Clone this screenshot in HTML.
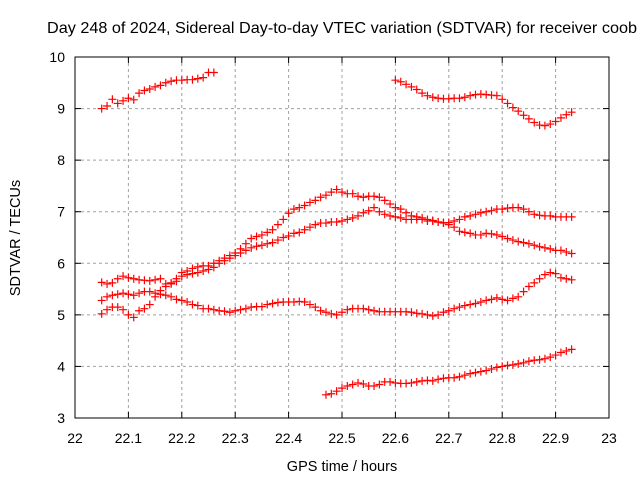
<!DOCTYPE html>
<html><head><meta charset="utf-8"><style>
body{margin:0;background:#fff}
svg{display:block;font-family:"Liberation Sans",sans-serif}
</style></head><body>
<svg id="chart" width="640" height="480">
<text x="47" y="33" font-size="16" textLength="590" lengthAdjust="spacingAndGlyphs" fill="#000">Day 248 of 2024, Sidereal Day-to-day VTEC variation (SDTVAR) for receiver coob</text>
<text x="342" y="471" font-size="14.5" text-anchor="middle">GPS time / hours</text>
<text x="0" y="0" font-size="14.5" text-anchor="middle" transform="translate(20,238) rotate(-90)">SDTVAR / TECUs</text>
<g id="grid"></g><g id="ticks"></g><g id="marks"></g>
<rect x="75" y="57" width="534" height="361" fill="none" stroke="#000" stroke-width="1"/>
</svg>
<script>
const xTicks=[22,22.1,22.2,22.3,22.4,22.5,22.6,22.7,22.8,22.9,23];
const xTickLabels=["22","22.1","22.2","22.3","22.4","22.5","22.6","22.7","22.8","22.9","23"];
const yTicks=[3,4,5,6,7,8,9,10];
const yTickLabels=["3","4","5","6","7","8","9","10"];
const seriesAStart=22.05;
const seriesA=[9.0,9.05,9.18,9.1,9.15,9.2,9.17,9.3,9.35,9.38,9.42,9.45,9.5,9.53,9.55,9.55,9.56,9.56,9.58,9.6,9.7,9.7];
const seriesBStart=22.60;
const seriesB=[9.55,9.52,9.47,9.42,9.37,9.3,9.25,9.22,9.2,9.19,9.19,9.2,9.2,9.22,9.25,9.27,9.28,9.27,9.26,9.25,9.18,9.1,9.02,8.95,8.87,8.8,8.73,8.68,8.67,8.7,8.75,8.82,8.88,8.93];
const seriesCStart=22.05;
const seriesC=[5.63,5.6,5.62,5.7,5.75,5.72,5.7,5.68,5.67,5.66,5.68,5.7,5.6,5.62,5.65,5.82,5.85,5.9,5.93,5.95,5.95,6.0,6.05,6.1,6.15,6.2,6.28,6.38,6.48,6.52,6.55,6.6,6.65,6.75,6.85,6.97,7.05,7.08,7.12,7.18,7.22,7.28,7.32,7.38,7.43,7.38,7.35,7.35,7.3,7.28,7.3,7.3,7.28,7.22,7.15,7.08,7.05,6.98,6.92,6.9,6.88,6.85,6.83,6.8,6.78,6.75,6.7,6.62,6.6,6.58,6.55,6.55,6.58,6.57,6.55,6.52,6.48,6.45,6.42,6.4,6.38,6.35,6.32,6.3,6.28,6.25,6.25,6.22,6.19];
const seriesDStart=22.05;
const seriesD=[5.02,5.1,5.15,5.15,5.1,5.0,4.95,5.08,5.12,5.2,5.35,5.47,5.55,5.6,5.7,5.75,5.78,5.8,5.82,5.85,5.88,5.92,6.0,6.05,6.1,6.15,6.2,6.25,6.3,6.33,6.35,6.38,6.4,6.45,6.5,6.53,6.58,6.6,6.65,6.7,6.75,6.78,6.78,6.8,6.8,6.82,6.85,6.88,6.92,6.98,7.02,7.08,7.0,6.95,6.92,6.9,6.88,6.85,6.85,6.85,6.85,6.82,6.82,6.8,6.79,6.79,6.82,6.85,6.9,6.92,6.95,6.98,7.0,7.02,7.05,7.05,7.07,7.08,7.08,7.05,7.0,6.95,6.93,6.92,6.92,6.9,6.9,6.9,6.9];
const seriesEStart=22.05;
const seriesE=[5.28,5.35,5.38,5.4,5.42,5.4,5.38,5.42,5.45,5.45,5.42,5.4,5.38,5.35,5.3,5.28,5.25,5.2,5.18,5.12,5.12,5.1,5.08,5.07,5.05,5.08,5.1,5.12,5.15,5.16,5.16,5.2,5.22,5.24,5.25,5.25,5.25,5.26,5.25,5.2,5.15,5.08,5.05,5.02,5.0,5.05,5.1,5.12,5.12,5.12,5.1,5.08,5.06,5.06,5.06,5.06,5.06,5.06,5.05,5.03,5.02,5.0,4.98,5.0,5.05,5.08,5.12,5.15,5.18,5.2,5.22,5.25,5.28,5.3,5.33,5.3,5.28,5.32,5.35,5.45,5.55,5.62,5.7,5.78,5.82,5.8,5.72,5.7,5.68];
const seriesFStart=22.47;
const seriesF=[3.45,3.47,3.52,3.58,3.62,3.65,3.68,3.66,3.62,3.62,3.65,3.7,3.7,3.68,3.67,3.67,3.68,3.7,3.72,3.73,3.72,3.75,3.77,3.78,3.78,3.8,3.83,3.86,3.88,3.9,3.92,3.95,3.98,4.0,4.02,4.03,4.05,4.07,4.1,4.12,4.13,4.15,4.18,4.22,4.27,4.3,4.33];
const step=0.01;

const NS="http://www.w3.org/2000/svg";
const X0=75,X1=609,Y0=418,Y1=57;
function xs(v){return X0+(v-22)*(X1-X0);}
function ys(v){return Y0-(v-3)*(Y0-Y1)/7;}
function mk(t,a,p){const e=document.createElementNS(NS,t);for(const k in a)e.setAttribute(k,a[k]);p.appendChild(e);return e;}
const grid=document.getElementById('grid'),ticks=document.getElementById('ticks'),marks=document.getElementById('marks');
xTicks.forEach((v,i)=>{
  const x=xs(v);
  if(i>0&&i<xTicks.length-1){const g=mk('line',{x1:x,x2:x,y1:Y1,y2:Y0,stroke:'#a0a0a0','stroke-dasharray':'3,3'},grid);
  
  }
  mk('line',{x1:x,x2:x,y1:Y0,y2:Y0-6,stroke:'#000'},ticks);
  mk('line',{x1:x,x2:x,y1:Y1,y2:Y1+6,stroke:'#000'},ticks);
  const t=mk('text',{x:x,y:443,'font-size':14,'text-anchor':'middle'},ticks);t.textContent=xTickLabels[i];
  
  
});
yTicks.forEach((v,i)=>{
  const y=ys(v);
  if(i>0&&i<yTicks.length-1){const g=mk('line',{x1:X0,x2:X1,y1:y,y2:y,stroke:'#a0a0a0','stroke-dasharray':'3,3'},grid);
  
  }
  mk('line',{x1:X0,x2:X0+6,y1:y,y2:y,stroke:'#000'},ticks);
  mk('line',{x1:X1,x2:X1-6,y1:y,y2:y,stroke:'#000'},ticks);
  const t=mk('text',{x:65,y:y+5,'font-size':14,'text-anchor':'end'},ticks);t.textContent=yTickLabels[i];
  
  
});
function draw(start,vals,name){
  const g=mk('g',{stroke:'#ff0000','stroke-width':1.2},marks);
  
  
  let d='';
  vals.forEach((v,i)=>{const x=xs(start+i*step),y=ys(v);d+=`M${x-4},${y}h8M${x},${y-4}v8`;});
  mk('path',{d:d,fill:'none'},g);
}
draw(seriesAStart,seriesA,'series-a');
draw(seriesBStart,seriesB,'series-b');
draw(seriesCStart,seriesC,'series-c');
draw(seriesDStart,seriesD,'series-d');
draw(seriesEStart,seriesE,'series-e');
draw(seriesFStart,seriesF,'series-f');
</script>
</body></html>
